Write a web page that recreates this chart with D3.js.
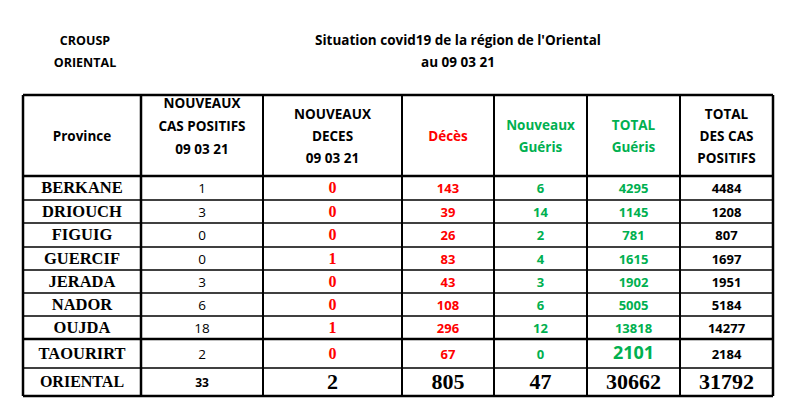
<!DOCTYPE html><html><head><meta charset="utf-8"><script src="https://d3js.org/d3.v7.min.js"></script>
<style>body{margin:0;background:#fff}</style></head><body><svg id="c" width="793" height="420"></svg>
<script>
const provinces=["BERKANE","DRIOUCH","FIGUIG","GUERCIF","JERADA","NADOR","OUJDA","TAOURIRT"];
const newCases=[1,3,0,0,3,6,18,2];
const newDeaths=[0,0,0,1,0,0,1,0];
const deaths=[143,39,26,83,43,108,296,67];
const newRecovered=[6,14,2,4,3,6,12,0];
const totalRecovered=[4295,1145,781,1615,1902,5005,13818,2101];
const totalCases=[4484,1208,807,1697,1951,5184,14277,2184];
const totals=["ORIENTAL",33,2,805,47,30662,31792];
const headers=[["Province"],["NOUVEAUX","CAS POSITIFS","09 03 21"],["NOUVEAUX","DECES","09 03 21"],["Décès"],["Nouveaux","Guéris"],["TOTAL","Guéris"],["TOTAL","DES CAS","POSITIFS"]];
const colEdges=[23,141,263,402,494,587,680,773];
const rowEdges=[95,176,200,223,247,270,293,316,339,368,396];
const RED="#ff0000",GREEN="#00b050";
const hColors=["#000","#000","#000",RED,GREEN,GREEN,"#000"];
const svg=d3.select("#c");
const sans="'Open Sans',sans-serif", serif="'Liberation Serif',serif";
svg.append("text").attr("x",85).attr("y",45).attr("text-anchor","middle").attr("font-family",sans).attr("font-weight",700).attr("font-size",12.5).text("CROUSP");
svg.append("text").attr("x",85).attr("y",67).attr("text-anchor","middle").attr("font-family",sans).attr("font-weight",700).attr("font-size",12.5).text("ORIENTAL");
svg.append("text").attr("x",458).attr("y",45).attr("text-anchor","middle").attr("font-family",sans).attr("font-weight",700).attr("font-size",13.5).text("Situation covid19 de la région de l'Oriental");
svg.append("text").attr("x",458).attr("y",67).attr("text-anchor","middle").attr("font-family",sans).attr("font-weight",700).attr("font-size",13.5).text("au 09 03 21");
const thickRows=new Set([0,1,8,10]);
rowEdges.forEach((y,i)=>svg.append("line").attr("x1",colEdges[0]).attr("x2",colEdges[7]).attr("y1",y).attr("y2",y).attr("stroke","#000").attr("stroke-width",thickRows.has(i)?2.5:1.5));
colEdges.forEach((x,i)=>svg.append("line").attr("x1",x).attr("x2",x).attr("y1",rowEdges[0]).attr("y2",rowEdges[10]).attr("stroke","#000").attr("stroke-width",(i==0||i==1||i==7)?2.5:2));
const cx=i=>(colEdges[i]+colEdges[i+1])/2, cy=r=>(rowEdges[r]+rowEdges[r+1])/2;
headers.forEach((h,i)=>{
  const lh=i==1?23:22;
  const yc=i==1?126:136;
  h.forEach((t,k)=>svg.append("text").attr("x",cx(i)).attr("y",yc+(k-(h.length-1)/2)*lh+5).attr("text-anchor","middle").attr("font-family",sans).attr("font-weight",700).attr("font-size",13.5).attr("fill",hColors[i]).text(t));
});
const cols=[
 {d:provinces,f:serif,w:700,s:16.5,c:"#000"},
 {d:newCases,f:sans,w:400,s:13.5,c:"#000"},
 {d:newDeaths,f:serif,w:700,s:16,c:RED},
 {d:deaths,f:sans,w:700,s:13,c:RED},
 {d:newRecovered,f:sans,w:700,s:13,c:GREEN},
 {d:totalRecovered,f:sans,w:700,s:13,c:GREEN},
 {d:totalCases,f:sans,w:700,s:13,c:"#000"}];
cols.forEach((col,i)=>{
  svg.selectAll(null).data(col.d).enter().append("text")
   .attr("x",cx(i)).attr("y",(d,r)=>cy(r+1)+5).attr("text-anchor","middle")
   .attr("font-family",col.f).attr("font-weight",col.w)
   .attr("font-size",(d,r)=>(i==5&&r==7)?18:col.s).attr("fill",col.c).text(d=>d);
});
totals.forEach((t,i)=>svg.append("text").attr("x",cx(i)).attr("y",cy(9)+(i<2?5:7)).attr("text-anchor","middle")
 .attr("font-family",i==1?sans:serif).attr("font-weight",700).attr("font-size",i==0?16:(i==1?12:22)).text(t));
</script></body></html>
